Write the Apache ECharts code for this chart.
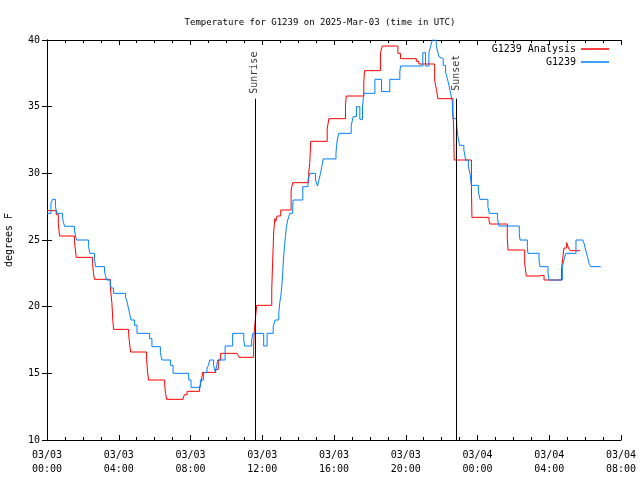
<!DOCTYPE html>
<html><head><meta charset="utf-8">
<script src="https://cdn.jsdelivr.net/npm/echarts@6/dist/echarts.min.js"></script>
<style>html,body{margin:0;padding:0;background:#fff}#c{width:640px;height:480px}</style>
</head><body><div id="c"></div>
<script>
// hours since 2025-03-03 00:00 UTC
const tickLabels = ['03/03\n00:00','03/03\n04:00','03/03\n08:00','03/03\n12:00','03/03\n16:00','03/03\n20:00','03/04\n00:00','03/04\n04:00','03/04\n08:00'];
const analysisTimes = [0,0.51,0.63,0.70,1.53,1.63,2.54,2.59,2.65,3.53,3.62,3.67,3.71,4.55,4.62,4.66,5.55,5.61,5.66,6.56,6.61,6.67,7.58,7.66,7.81,8.51,8.61,8.68,9.40,9.55,9.68,10.60,10.71,11.52,11.56,11.65,11.69,12.53,12.58,12.64,12.70,12.76,12.82,13.03,13.61,13.70,14.59,14.65,14.70,15.62,15.71,16.64,16.68,17.66,17.70,18.59,18.69,19.56,19.71,20.59,20.73,21.61,21.72,21.79,22.63,22.67,22.70,23.66,23.69,24.64,24.69,25.66,25.70,26.63,26.72,27.43,27.71,28.68,28.75,28.82,28.97,29.07,29.16,29.72];
const analysisTemps = [27.2,26.9,26.25,25.3,24.9,23.7,23.25,22.5,22.05,21.45,20.25,18.95,18.3,17.93,17.05,16.6,16.08,15.05,14.5,14.1,13.5,13.05,13.2,13.4,13.65,13.95,14.5,15.07,15.3,16.0,16.5,16.35,16.2,17.0,18.25,19.55,20.1,21.3,23.4,25.6,26.6,26.4,26.8,27.25,28.75,29.3,30.0,30.8,32.4,33.3,34.1,35.0,35.8,36.8,37.7,39.05,39.55,39.0,38.6,38.4,38.2,37.0,36.2,35.6,34.5,33.4,31.0,29.0,26.7,26.45,26.2,25.2,24.25,23.25,22.3,22.35,22.0,22.75,23.6,24.4,24.8,24.4,24.2,24.2];
const obsTimes = [0,0.22,0.31,0.47,0.55,0.86,0.92,0.98,1.53,1.59,1.65,2.32,2.39,2.65,2.71,3.21,3.28,3.32,3.53,3.58,3.71,4.38,4.46,4.53,4.59,4.68,4.88,5.02,5.72,5.85,6.32,6.41,6.88,7.03,7.90,8.03,8.55,8.73,8.92,9.00,9.07,9.29,9.39,9.46,9.52,9.93,10.35,10.97,11.02,11.41,11.48,12.08,12.27,12.61,12.72,12.92,12.97,13.03,13.09,13.14,13.18,13.24,13.29,13.35,13.42,13.48,13.53,13.70,13.72,14.26,14.55,14.65,14.97,15.08,15.16,15.25,15.32,15.40,16.11,16.14,16.18,16.27,16.96,17.07,17.25,17.44,17.59,17.66,18.28,18.65,19.11,19.67,19.71,20.95,21.10,21.29,21.38,21.48,21.70,21.76,21.85,21.94,22.09,22.22,22.32,22.41,22.50,22.59,22.63,22.84,22.91,23.00,23.24,23.34,23.49,23.58,23.66,24.05,24.14,24.58,24.66,25.11,25.20,26.33,26.37,26.78,26.81,27.43,27.48,27.93,27.99,28.73,28.82,28.92,29.49,29.87,29.94,30.03,30.13,30.22,30.31,30.87];
const obsTemps = [27.0,27.75,28.05,27.5,27.0,26.7,26.3,26.03,25.75,25.3,25.0,24.5,24.0,23.55,23.0,22.6,22.25,22.0,21.7,21.4,21.0,20.7,20.4,19.95,19.6,19.0,18.6,18.0,17.6,17.0,16.55,16.0,15.6,15.0,14.5,13.95,14.5,15.05,15.4,15.6,16.0,15.6,15.05,15.6,16.0,17.05,18.0,17.5,17.05,17.5,18.0,17.05,18.0,18.5,19.0,19.5,20.25,20.75,21.5,22.5,23.5,24.5,25.25,26.0,26.5,26.75,27.0,27.45,28.0,29.0,29.5,30.0,29.5,29.05,29.5,30.0,30.5,31.08,31.5,32.0,32.5,33.0,33.6,34.25,35.0,34.05,35.0,36.0,37.05,36.13,37.05,37.6,38.05,39.05,38.05,39.05,39.5,40.0,39.6,39.25,38.75,38.6,38.1,37.6,37.1,36.6,36.0,35.4,34.1,33.6,32.75,32.1,31.75,31.0,30.5,30.0,29.1,28.6,28.05,27.5,27.0,26.6,26.05,25.5,25.0,24.5,24.0,23.5,23.0,22.5,22.0,23.0,23.5,24.0,25.0,25.0,24.75,24.25,23.75,23.25,23.0,23.0];
const sunNames = ['Sunrise','Sunset'];
const sunTimes = [11.59, 22.84];
const sunLineTop = 35.6;
const sunLabelY = 37.55;

const FONT = 'DejaVu Sans Mono';
const zip = (a,b) => a.map((v,i)=>[v,b[i]]);
const chart = echarts.init(document.getElementById('c'), null, {renderer:'canvas'});
const axisCommon = {
  type:'value', min:0, max:32, interval:4,
  axisLine:{show:true,lineStyle:{color:'#000',width:1}},
  axisTick:{show:true,inside:true,length:5,lineStyle:{color:'#000'}},
  minorTick:{show:true,splitNumber:4,length:3,lineStyle:{color:'#000'}},
  splitLine:{show:false}, minorSplitLine:{show:false}
};
const yCommon = {
  type:'value', min:10, max:40, interval:5,
  axisLine:{show:true,lineStyle:{color:'#000',width:1}},
  axisTick:{show:true,inside:true,length:5,lineStyle:{color:'#000'}},
  splitLine:{show:false}
};
chart.setOption({
  animation:false,
  backgroundColor:'#fff',
  textStyle:{fontFamily:FONT,color:'#000'},
  title:{text:'Temperature for G1239 on 2025-Mar-03 (time in UTC)',left:'center',top:13,
    textStyle:{fontFamily:FONT,fontSize:9,fontWeight:'normal',color:'#000'}},
  legend:{data:['G1239 Analysis','G1239'],orient:'vertical',right:26,top:39,align:'right',
    itemWidth:28,itemHeight:1.5,itemGap:3,icon:'rect',
    textStyle:{fontFamily:FONT,fontSize:10,color:'#000'}},
  grid:{left:47,right:19,top:40,bottom:40,show:false,containLabel:false,outerBoundsMode:'none'},
  xAxis:[
    Object.assign({},axisCommon,{position:'bottom',
      axisLabel:{fontFamily:FONT,fontSize:10,color:'#000',margin:8,lineHeight:14,
        formatter:(v)=>tickLabels[Math.round(v/4)]}}),
    Object.assign({},axisCommon,{position:'top',axisLabel:{show:false}})
  ],
  yAxis:[
    Object.assign({},yCommon,{position:'left',name:'degrees F',nameLocation:'middle',nameGap:33,
      nameTextStyle:{fontFamily:FONT,fontSize:10,color:'#000'},
      axisLabel:{fontFamily:FONT,fontSize:10,color:'#000',margin:7}}),
    Object.assign({},yCommon,{position:'right',axisLabel:{show:false}})
  ],
  series:[
    {name:'G1239 Analysis',type:'line',step:'end',data:zip(analysisTimes,analysisTemps),
      showSymbol:false,symbol:'none',color:'#ff0000',lineStyle:{width:1,color:'#ff0000'},
      markLine:{silent:true,symbol:'none',label:{show:false},lineStyle:{color:'#000',width:1,type:'solid'},
        data:sunTimes.map(t=>[{coord:[t,10]},{coord:[t,sunLineTop]}])}},
    {name:'G1239',type:'line',step:'end',data:zip(obsTimes,obsTemps),
      showSymbol:false,symbol:'none',color:'#0080ff',lineStyle:{width:1,color:'#0080ff'}},
    {name:'sun',type:'scatter',symbolSize:0,silent:true,
      data:sunTimes.map((t,i)=>({value:[t,sunLabelY],name:sunNames[i]})),
      label:{show:true,position:'inside',rotate:90,formatter:(p)=>p.name,
        fontFamily:FONT,fontSize:10,color:'#000'}}
  ]
});
</script></body></html>
